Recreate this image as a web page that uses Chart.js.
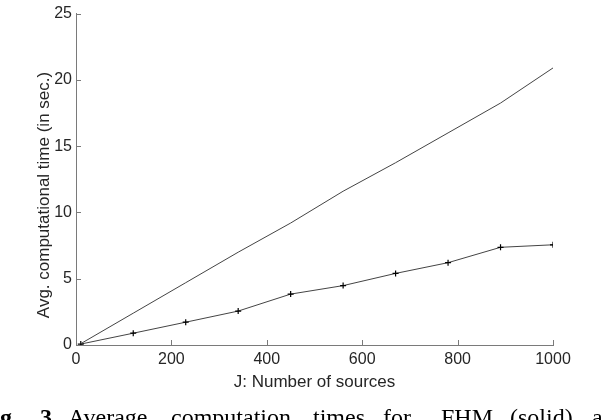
<!DOCTYPE html>
<html>
<head>
<meta charset="utf-8">
<script src="https://cdn.jsdelivr.net/npm/chart.js@4.4.1/dist/chart.umd.min.js"></script>
<style>
  html, body { margin: 0; padding: 0; background: #fff; }
  #wrap { width: 602px; height: 420px; position: relative; }
</style>
</head>
<body>
<div id="wrap"><canvas id="timeChart" width="602" height="420"></canvas></div>
<script>
// number of sources J
const sources = [10, 120, 230, 340, 450, 560, 670, 780, 890, 1000];
// avg. time, FHM (solid, upper)
const fhmTimes = [0.1, 2.4, 4.7, 7.0, 9.2, 11.6, 13.75, 16.0, 18.25, 20.9];
// avg. time, second method (with + markers)
const otherTimes = [0.07, 0.89, 1.72, 2.56, 3.84, 4.48, 5.40, 6.21, 7.37, 7.56];

const xTicks = [0, 200, 400, 600, 800, 1000];
const yTicks = [0, 5, 10, 15, 20, 25];

const yTitle = 'Avg. computational time (in sec.)';
const xTitle = 'J: Number of sources';
const captionWords = ['Average', 'computation', 'times', 'for', 'FHM', '(solid)', 'and'];

const axisColor = '#262626';
const sansFont = '"Liberation Sans", Arial, sans-serif';
const serifFont = '"Liberation Serif", "Times New Roman", serif';

function toPoints(ys) {
    return sources.map(function (x, i) { return { x: x, y: ys[i] }; });
}

// ticks drawn inside the axes, like matlab
const innerTicks = {
    id: 'innerTicks',
    afterDatasetsDraw: function (chart) {
        const ctx = chart.ctx;
        const x = chart.scales.x, y = chart.scales.y;
        const area = chart.chartArea;
        ctx.save();
        ctx.strokeStyle = '#7a7a7a';
        ctx.lineWidth = 1;
        ctx.beginPath();
        xTicks.forEach(function (v) {
            const px = Math.round(x.getPixelForValue(v)) + 0.5;
            ctx.moveTo(px, area.bottom);
            ctx.lineTo(px, area.bottom - 5);
        });
        yTicks.forEach(function (v) {
            const py = Math.round(y.getPixelForValue(v)) + 0.5;
            ctx.moveTo(area.left, py);
            ctx.lineTo(area.left + 5, py);
        });
        ctx.stroke();
        ctx.restore();
    }
};

// y title (sits a bit below the axis centre) and the cut-off figure caption
const textBits = {
    id: 'textBits',
    afterDraw: function (chart) {
        const ctx = chart.ctx;
        ctx.save();
        ctx.fillStyle = axisColor;
        ctx.font = '17px ' + sansFont;
        ctx.textAlign = 'center';
        ctx.textBaseline = 'middle';
        ctx.translate(44, 195);
        ctx.rotate(-Math.PI / 2);
        ctx.fillText(yTitle, 0, 0);
        ctx.restore();

        ctx.save();
        ctx.fillStyle = '#000';
        ctx.textBaseline = 'alphabetic';
        ctx.font = 'bold 24px ' + serifFont;
        const fi = ctx.measureText('Fi').width;
        ctx.fillText('Fig.', -fi, 425);
        ctx.fillText('3', 40, 425);
        ctx.font = '24px ' + serifFont;
        const starts = [68, 171, 313, 383, 441, 510, 592];
        captionWords.forEach(function (w, i) {
            ctx.fillText(w, starts[i], 425);
        });
        ctx.restore();
    }
};

new Chart(document.getElementById('timeChart'), {
    type: 'line',
    data: {
        datasets: [{
            label: 'FHM',
            data: toPoints(fhmTimes),
            borderColor: '#444444',
            borderWidth: 1,
            pointRadius: 0,
            fill: false,
            tension: 0
        }, {
            label: 'other',
            data: toPoints(otherTimes),
            borderColor: '#444444',
            borderWidth: 1,
            pointStyle: 'cross',
            pointRadius: 3,
            pointBorderColor: '#000',
            pointBorderWidth: 1.2,
            fill: false,
            tension: 0
        }]
    },
    options: {
        responsive: false,
        animation: false,
        layout: { padding: { left: 0, right: 49, top: 7, bottom: 27 } },
        plugins: {
            legend: { display: false },
            tooltip: { enabled: false }
        },
        scales: {
            x: {
                type: 'linear',
                min: 0,
                max: 1000,
                afterBuildTicks: function (s) { s.ticks = xTicks.map(function (v) { return { value: v }; }); },
                afterFit: function (s) { s.height = 48; },
                grid: { display: true, drawOnChartArea: false, drawTicks: false },
                border: { display: true, color: '#7a7a7a', width: 1 },
                ticks: {
                    color: axisColor, font: { family: sansFont, size: 16 }, padding: 5, maxRotation: 0,
                    callback: function (v) { return String(v); }
                },
                title: { display: true, text: xTitle, color: axisColor, font: { family: sansFont, size: 17 }, padding: { top: 0, bottom: 0 } }
            },
            y: {
                min: 0,
                max: 25,
                afterBuildTicks: function (s) { s.ticks = yTicks.map(function (v) { return { value: v }; }); },
                afterFit: function (s) { s.width = 76; },
                grid: { display: true, drawOnChartArea: false, drawTicks: false },
                border: { display: true, color: '#7a7a7a', width: 1 },
                ticks: {
                    color: axisColor, font: { family: sansFont, size: 16 }, padding: 4,
                    callback: function (v) { return String(v); }
                }
            }
        }
    },
    plugins: [innerTicks, textBits]
});
</script>
</body>
</html>
